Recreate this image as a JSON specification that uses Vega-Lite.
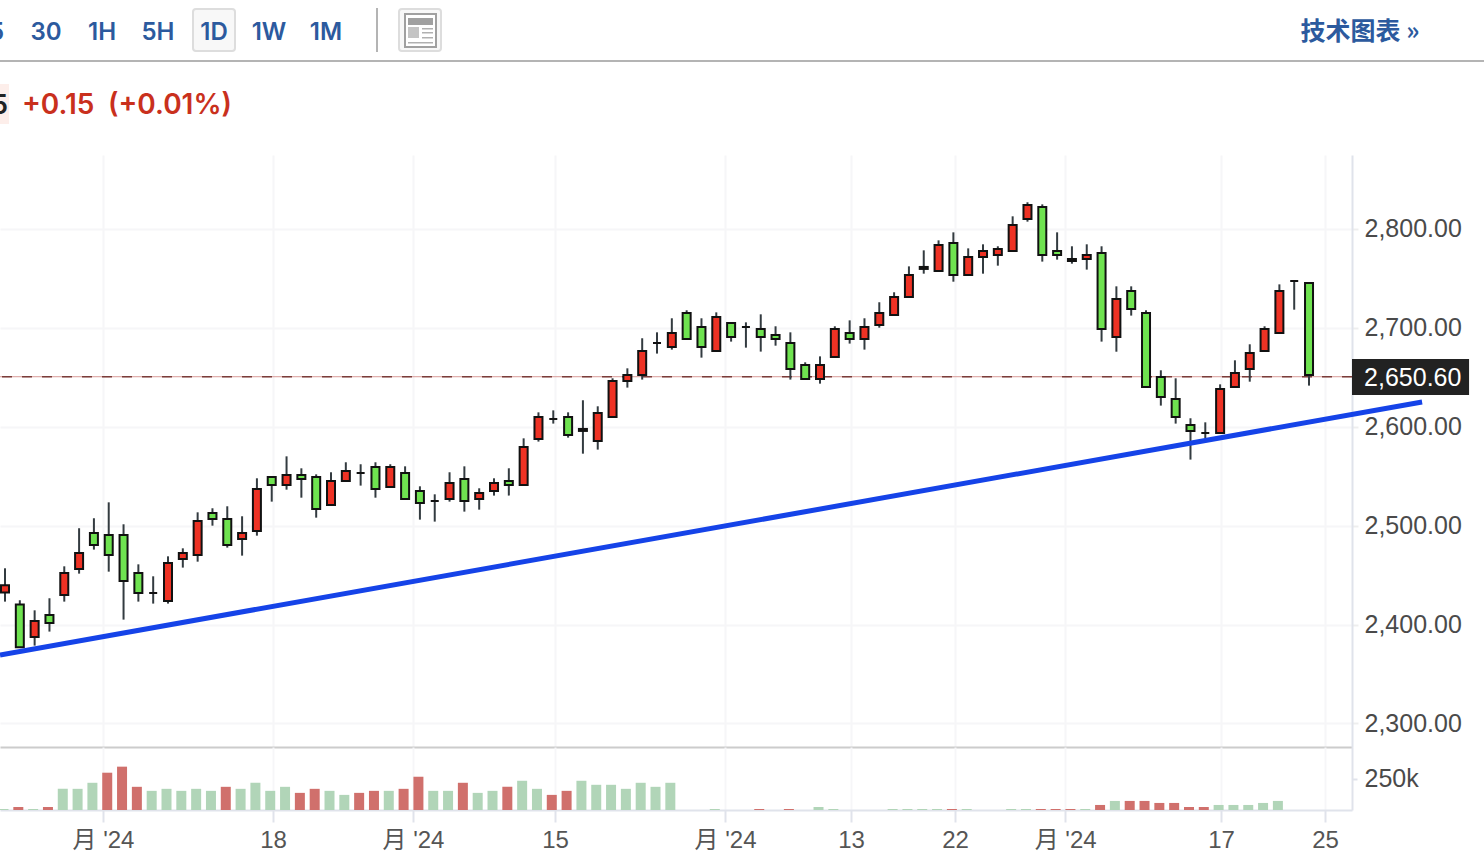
{"$schema":"https://vega.github.io/schema/vega-lite/v6.json","padding":{"left":-12,"top":0,"right":0,"bottom":0},"background":"white","spacing":0,"bounds":"flush","config":{"view":{"stroke":null}},
"datasets":{
"candles":[
{"i":0,"o":2432.3,"h":2456.9,"l":2423.2,"c":2439.7,"v":8000,"vdir":"down"},
{"i":1,"o":2420.2,"h":2424.6,"l":2377.0,"c":2377.0,"v":24000,"vdir":"up"},
{"i":2,"o":2387.5,"h":2414.4,"l":2378.7,"c":2403.6,"v":8000,"vdir":"down"},
{"i":3,"o":2409.7,"h":2426.6,"l":2392.9,"c":2401.6,"v":24000,"vdir":"up"},
{"i":4,"o":2429.9,"h":2458.9,"l":2423.2,"c":2452.2,"v":168000,"vdir":"down"},
{"i":5,"o":2456.2,"h":2497.4,"l":2451.5,"c":2472.4,"v":168000,"vdir":"down"},
{"i":6,"o":2492.6,"h":2507.5,"l":2475.8,"c":2480.5,"v":216000,"vdir":"down"},
{"i":7,"o":2490.6,"h":2523.6,"l":2453.5,"c":2470.4,"v":296000,"vdir":"up"},
{"i":8,"o":2490.6,"h":2501.4,"l":2405.0,"c":2444.1,"v":344000,"vdir":"up"},
{"i":9,"o":2452.2,"h":2460.9,"l":2423.2,"c":2431.9,"v":184000,"vdir":"up"},
{"i":10,"o":2431.9,"h":2448.8,"l":2421.2,"c":2431.9,"v":152000,"vdir":"down"},
{"i":11,"o":2423.9,"h":2469.0,"l":2421.2,"c":2462.3,"v":168000,"vdir":"down"},
{"i":12,"o":2466.3,"h":2477.1,"l":2457.6,"c":2472.4,"v":152000,"vdir":"down"},
{"i":13,"o":2470.4,"h":2513.5,"l":2463.6,"c":2504.8,"v":168000,"vdir":"down"},
{"i":14,"o":2512.8,"h":2517.6,"l":2500.0,"c":2506.8,"v":152000,"vdir":"down"},
{"i":15,"o":2506.8,"h":2519.6,"l":2477.8,"c":2480.5,"v":184000,"vdir":"up"},
{"i":16,"o":2486.6,"h":2509.5,"l":2469.7,"c":2492.6,"v":168000,"vdir":"down"},
{"i":17,"o":2494.7,"h":2547.9,"l":2489.9,"c":2537.1,"v":216000,"vdir":"down"},
{"i":18,"o":2549.3,"h":2549.3,"l":2524.3,"c":2541.2,"v":152000,"vdir":"down"},
{"i":19,"o":2541.2,"h":2570.1,"l":2536.4,"c":2551.3,"v":184000,"vdir":"down"},
{"i":20,"o":2551.3,"h":2558.0,"l":2528.3,"c":2547.2,"v":136000,"vdir":"up"},
{"i":21,"o":2549.3,"h":2551.9,"l":2508.1,"c":2516.9,"v":168000,"vdir":"up"},
{"i":22,"o":2520.9,"h":2554.0,"l":2520.9,"c":2545.2,"v":152000,"vdir":"down"},
{"i":23,"o":2545.2,"h":2564.1,"l":2545.2,"c":2555.3,"v":120000,"vdir":"down"},
{"i":24,"o":2553.3,"h":2562.1,"l":2540.5,"c":2553.3,"v":136000,"vdir":"up"},
{"i":25,"o":2559.4,"h":2564.1,"l":2528.3,"c":2537.1,"v":152000,"vdir":"up"},
{"i":26,"o":2539.1,"h":2562.1,"l":2539.1,"c":2559.4,"v":152000,"vdir":"down"},
{"i":27,"o":2553.3,"h":2560.0,"l":2527.0,"c":2527.0,"v":168000,"vdir":"up"},
{"i":28,"o":2535.1,"h":2539.8,"l":2506.1,"c":2523.0,"v":264000,"vdir":"up"},
{"i":29,"o":2525.0,"h":2531.7,"l":2504.1,"c":2525.0,"v":152000,"vdir":"down"},
{"i":30,"o":2527.0,"h":2554.0,"l":2524.3,"c":2543.2,"v":152000,"vdir":"down"},
{"i":31,"o":2547.2,"h":2560.0,"l":2514.2,"c":2525.0,"v":216000,"vdir":"up"},
{"i":32,"o":2527.0,"h":2537.8,"l":2516.2,"c":2533.1,"v":136000,"vdir":"down"},
{"i":33,"o":2535.1,"h":2547.9,"l":2530.4,"c":2543.2,"v":152000,"vdir":"down"},
{"i":34,"o":2545.2,"h":2558.0,"l":2530.4,"c":2541.2,"v":184000,"vdir":"up"},
{"i":35,"o":2541.2,"h":2588.3,"l":2541.2,"c":2579.6,"v":232000,"vdir":"down"},
{"i":36,"o":2587.7,"h":2614.6,"l":2585.0,"c":2609.9,"v":168000,"vdir":"down"},
{"i":37,"o":2607.9,"h":2616.6,"l":2603.2,"c":2607.9,"v":120000,"vdir":"up"},
{"i":38,"o":2609.9,"h":2614.6,"l":2589.0,"c":2591.7,"v":152000,"vdir":"up"},
{"i":39,"o":2595.8,"h":2626.8,"l":2572.8,"c":2597.8,"v":232000,"vdir":"down"},
{"i":40,"o":2585.6,"h":2620.7,"l":2576.9,"c":2613.9,"v":200000,"vdir":"down"},
{"i":41,"o":2609.9,"h":2649.0,"l":2609.9,"c":2646.3,"v":200000,"vdir":"down"},
{"i":42,"o":2646.3,"h":2659.1,"l":2639.6,"c":2652.4,"v":168000,"vdir":"down"},
{"i":43,"o":2652.4,"h":2689.5,"l":2647.7,"c":2676.6,"v":216000,"vdir":"down"},
{"i":44,"o":2684.7,"h":2695.5,"l":2674.0,"c":2684.7,"v":184000,"vdir":"down"},
{"i":45,"o":2680.7,"h":2709.7,"l":2678.0,"c":2694.8,"v":216000,"vdir":"down"},
{"i":46,"o":2715.1,"h":2717.8,"l":2688.8,"c":2688.8,"v":0,"vdir":"down"},
{"i":47,"o":2700.9,"h":2709.7,"l":2669.9,"c":2680.7,"v":0,"vdir":"down"},
{"i":48,"o":2676.6,"h":2715.7,"l":2676.6,"c":2711.0,"v":8000,"vdir":"down"},
{"i":49,"o":2704.9,"h":2704.9,"l":2686.1,"c":2690.8,"v":0,"vdir":"down"},
{"i":50,"o":2700.9,"h":2705.6,"l":2680.0,"c":2700.9,"v":0,"vdir":"down"},
{"i":51,"o":2698.9,"h":2713.7,"l":2676.0,"c":2690.8,"v":8000,"vdir":"up"},
{"i":52,"o":2692.8,"h":2701.6,"l":2682.0,"c":2688.8,"v":0,"vdir":"down"},
{"i":53,"o":2684.7,"h":2695.5,"l":2647.7,"c":2658.4,"v":8000,"vdir":"up"},
{"i":54,"o":2662.5,"h":2665.2,"l":2648.3,"c":2648.3,"v":0,"vdir":"down"},
{"i":55,"o":2648.3,"h":2671.2,"l":2643.6,"c":2662.5,"v":24000,"vdir":"down"},
{"i":56,"o":2670.6,"h":2701.6,"l":2670.6,"c":2698.9,"v":8000,"vdir":"down"},
{"i":57,"o":2694.8,"h":2707.6,"l":2684.1,"c":2688.8,"v":0,"vdir":"down"},
{"i":58,"o":2688.8,"h":2709.7,"l":2678.0,"c":2700.9,"v":0,"vdir":"down"},
{"i":59,"o":2702.9,"h":2725.9,"l":2700.2,"c":2715.1,"v":0,"vdir":"down"},
{"i":60,"o":2713.0,"h":2736.0,"l":2713.0,"c":2731.2,"v":8000,"vdir":"down"},
{"i":61,"o":2731.2,"h":2762.2,"l":2731.2,"c":2753.5,"v":8000,"vdir":"down"},
{"i":62,"o":2759.6,"h":2778.4,"l":2754.8,"c":2761.6,"v":8000,"vdir":"down"},
{"i":63,"o":2757.5,"h":2788.5,"l":2757.5,"c":2783.8,"v":8000,"vdir":"down"},
{"i":64,"o":2785.8,"h":2796.6,"l":2746.7,"c":2753.5,"v":8000,"vdir":"up"},
{"i":65,"o":2753.5,"h":2780.4,"l":2753.5,"c":2771.7,"v":8000,"vdir":"down"},
{"i":66,"o":2771.7,"h":2784.5,"l":2754.8,"c":2777.8,"v":0,"vdir":"down"},
{"i":67,"o":2773.7,"h":2782.5,"l":2762.9,"c":2779.8,"v":0,"vdir":"down"},
{"i":68,"o":2777.8,"h":2812.8,"l":2777.8,"c":2804.0,"v":8000,"vdir":"down"},
{"i":69,"o":2810.1,"h":2827.0,"l":2807.4,"c":2824.3,"v":8000,"vdir":"down"},
{"i":70,"o":2822.3,"h":2824.9,"l":2767.0,"c":2773.7,"v":8000,"vdir":"up"},
{"i":71,"o":2777.8,"h":2796.6,"l":2769.0,"c":2773.7,"v":8000,"vdir":"up"},
{"i":72,"o":2767.6,"h":2782.5,"l":2764.9,"c":2769.7,"v":8000,"vdir":"up"},
{"i":73,"o":2769.7,"h":2784.5,"l":2758.9,"c":2773.7,"v":8000,"vdir":"down"},
{"i":74,"o":2775.7,"h":2782.5,"l":2686.1,"c":2698.9,"v":40000,"vdir":"up"},
{"i":75,"o":2690.8,"h":2742.0,"l":2675.9,"c":2729.2,"v":72000,"vdir":"down"},
{"i":76,"o":2737.3,"h":2742.0,"l":2712.4,"c":2719.1,"v":72000,"vdir":"up"},
{"i":77,"o":2715.1,"h":2717.8,"l":2640.2,"c":2640.2,"v":72000,"vdir":"up"},
{"i":78,"o":2650.4,"h":2657.1,"l":2621.4,"c":2630.1,"v":56000,"vdir":"up"},
{"i":79,"o":2628.1,"h":2649.0,"l":2603.2,"c":2609.9,"v":56000,"vdir":"up"},
{"i":80,"o":2601.8,"h":2608.6,"l":2566.8,"c":2595.8,"v":24000,"vdir":"up"},
{"i":81,"o":2593.7,"h":2604.5,"l":2588.3,"c":2593.7,"v":24000,"vdir":"up"},
{"i":82,"o":2593.7,"h":2642.9,"l":2593.7,"c":2638.2,"v":40000,"vdir":"down"},
{"i":83,"o":2640.2,"h":2667.2,"l":2640.2,"c":2654.4,"v":40000,"vdir":"down"},
{"i":84,"o":2658.4,"h":2683.4,"l":2645.6,"c":2674.6,"v":40000,"vdir":"down"},
{"i":85,"o":2676.6,"h":2701.6,"l":2676.6,"c":2698.9,"v":56000,"vdir":"down"},
{"i":86,"o":2694.8,"h":2744.0,"l":2694.8,"c":2737.3,"v":72000,"vdir":"down"},
{"i":87,"o":2747.4,"h":2748.1,"l":2718.4,"c":2747.4,"v":0,"vdir":"down"},
{"i":88,"o":2745.4,"h":2745.4,"l":2641.6,"c":2652.4,"v":0,"vdir":"down"}
],
"trend":[{"i":-0.3374,"p":2369.3},{"i":95.63,"p":2625.1}],
"level":[{"price":2650.6,"i":95.0}],
"tag":[{"i":90.9,"i2":98.8,"hi":2668.6,"lo":2632.2}]
},
"vconcat":[
{"width":1484,"height":155,
"encoding":{
"x":{"field":"col","type":"quantitative","scale":{"domain":[0,1484],"nice":false,"zero":false,"padding":0},"axis":null},
"y":{"field":"row","type":"quantitative","scale":{"domain":[155,0],"nice":false,"zero":false},"axis":null}},
"layer":[
{"data":{"values":[{"col":0,"col2":9,"row":84,"row2":124}]},"mark":{"type":"rect","fill":"#fdeeea"},"encoding":{"x2":{"field":"col2"},"y2":{"field":"row2"}}},
{"data":{"values":[{"col":193,"col2":235,"row":9,"row2":51},{"col":399,"col2":441,"row":9,"row2":51}]},"mark":{"type":"rect","fill":"#f8f8f8","stroke":"#dddddd","strokeWidth":2,"cornerRadius":3},"encoding":{"x2":{"field":"col2"},"y2":{"field":"row2"}}},
{"data":{"values":[{"col":405,"col2":436,"row":14,"row2":47}]},"mark":{"type":"rect","fill":"#ffffff","stroke":"#a0a0a0","strokeWidth":2},"encoding":{"x2":{"field":"col2"},"y2":{"field":"row2"}}},
{"data":{"values":[{"col":408,"col2":433,"row":18,"row2":25}]},"mark":{"type":"rect","fill":"#a0a0a0"},"encoding":{"x2":{"field":"col2"},"y2":{"field":"row2"}}},
{"data":{"values":[{"col":408,"col2":419,"row":27,"row2":38}]},"mark":{"type":"rect","fill":"#c4c4c4"},"encoding":{"x2":{"field":"col2"},"y2":{"field":"row2"}}},
{"data":{"values":[{"col":422,"col2":433,"row":28,"row2":29.5},{"col":422,"col2":433,"row":32,"row2":33.5},{"col":422,"col2":433,"row":37,"row2":38.5},{"col":408,"col2":433,"row":42,"row2":43.5}]},"mark":{"type":"rect","fill":"#b0b0b0"},"encoding":{"x2":{"field":"col2"},"y2":{"field":"row2"}}},
{"data":{"values":[{"col":376,"col2":378,"row":8,"row2":52},{"col":0,"col2":1484,"row":60,"row2":62}]},"mark":{"type":"rect","fill":"#b4b4b4"},"encoding":{"x2":{"field":"col2"},"y2":{"field":"row2"}}},
{"data":{"values":[{"t":"5","col":4,"row":32.5}]},"mark":{"type":"text","font":"Inter","fontWeight":600,"fontSize":24,"color":"#2c5a9e","align":"right","baseline":"middle"},"encoding":{"text":{"field":"t"}}},
{"data":{"values":[{"t":"30","col":46,"row":32.5},{"t":"1H","col":102,"row":32.5},{"t":"5H","col":158,"row":32.5},{"t":"1D","col":214,"row":32.5},{"t":"1W","col":269,"row":32.5},{"t":"1M","col":326,"row":32.5}]},"mark":{"type":"text","font":"Inter","fontWeight":600,"fontSize":24,"color":"#2c5a9e","align":"center","baseline":"middle"},"encoding":{"text":{"field":"t"}}},
{"data":{"values":[{"t":"技术图表 »","col":1360,"row":31.5}]},"mark":{"type":"text","font":"Noto Sans CJK SC","fontWeight":700,"fontSize":25,"color":"#2c5a9e","align":"center","baseline":"middle"},"encoding":{"text":{"field":"t"}}},
{"data":{"values":[{"t":"+0.15","col":22,"row":106},{"t":"(+0.01%)","col":108,"row":106}]},"mark":{"type":"text","font":"Inter","fontWeight":600,"fontSize":28,"color":"#c9301d","align":"left","baseline":"middle"},"encoding":{"text":{"field":"t"}}},
{"data":{"values":[{"t":"5","col":8,"row":106}]},"mark":{"type":"text","font":"Inter","fontWeight":600,"fontSize":27,"color":"#222222","align":"right","baseline":"middle"},"encoding":{"text":{"field":"t"}}}
]},
{"width":1352,"height":592,
"encoding":{"x":{"field":"i","type":"quantitative","scale":{"domain":[-0.3374,90.9],"nice":false,"zero":false,"padding":0},
"axis":{"orient":"bottom","title":null,"labels":false,"ticks":false,"grid":true,"gridColor":"#f6f6f8","gridWidth":2,"domain":true,"domainColor":"#cccccc","domainWidth":2,"values":[6.61,18.09,27.53,37.12,48.59,57.09,64.11,71.54,82.06,89.08]}}},
"layer":[
{"data":{"name":"level"},"mark":{"type":"rule","stroke":"#d89a96","strokeWidth":1},"encoding":{"x":null,"y":{"field":"price","type":"quantitative","scale":{"domain":[2276.2,2874.8],"nice":false,"zero":false},
"axis":{"orient":"right","title":null,"values":[2300,2400,2500,2600,2700,2800],"format":",.2f","grid":true,"gridColor":"#f6f6f8","gridWidth":2,"domainColor":"#e0e3eb","domainWidth":2,"ticks":true,"tickColor":"#eeeeee","tickWidth":2,"tickSize":6,"labelPadding":6,"labelFont":"Liberation Sans","labelFontSize":25,"labelColor":"#4a4a4a"}}}},
{"data":{"name":"level"},"mark":{"type":"rule","stroke":"#7a3d3a","strokeWidth":1.5,"strokeDash":[10,10]},"encoding":{"x":null,"y":{"field":"price","type":"quantitative"}}},
{"data":{"name":"candles"},"mark":{"type":"rule","stroke":"#333b40","strokeWidth":2},"encoding":{"y":{"field":"h","type":"quantitative"},"y2":{"field":"l"}}},
{"data":{"name":"candles"},"mark":{"type":"bar","size":8,"stroke":"#111111","strokeWidth":2},"encoding":{"y":{"field":"o","type":"quantitative"},"y2":{"field":"c"},"fill":{"condition":{"test":"datum.c>datum.o","value":"#ee3224"},"value":"#6fe350"}}},
{"data":{"name":"trend"},"mark":{"type":"line","stroke":"#1543e8","strokeWidth":5},"encoding":{"y":{"field":"p","type":"quantitative"}}},
{"data":{"name":"tag"},"mark":{"type":"rect","fill":"#222222"},"encoding":{"x2":{"field":"i2"},"y":{"field":"hi","type":"quantitative"},"y2":{"field":"lo"}}},
{"data":{"name":"level"},"mark":{"type":"text","font":"Liberation Sans","fontSize":25,"color":"#ffffff","align":"center","baseline":"middle","dy":1},"encoding":{"y":{"field":"price","type":"quantitative"},"text":{"field":"price","format":",.2f"}}}
]},
{"width":1352,"height":63,"data":{"name":"candles"},
"mark":{"type":"bar","size":10,"xOffset":-1.5},
"encoding":{
"x":{"field":"i","type":"quantitative","scale":{"domain":[-0.3374,90.9],"nice":false,"zero":false,"padding":0},
"axis":{"title":null,"values":[6.61,18.09,27.53,37.12,48.59,57.09,64.11,71.54,82.06,89.08],"labelExpr":"datum.value==18.09?'18':datum.value==37.12?'15':datum.value==57.09?'13':datum.value==64.11?'22':datum.value==82.06?'17':datum.value==89.08?'25':\"月 '24\"","labelOverlap":false,"labelFlush":false,"grid":true,"gridColor":"#f6f6f8","gridWidth":2,"domainColor":"#e0e3eb","domainWidth":2,"tickColor":"#e0e3eb","tickWidth":2,"tickSize":12,"labelPadding":6,"labelFont":"Liberation Sans, Noto Sans CJK SC","labelFontSize":24,"labelColor":"#555555"}},
"y":{"field":"v","type":"quantitative","stack":null,"scale":{"domain":[0,500000],"nice":false,"zero":false},
"axis":{"orient":"right","title":null,"values":[250000],"labelExpr":"'250k'","grid":false,"domainColor":"#e0e3eb","domainWidth":2,"tickColor":"#e0e3eb","tickWidth":2,"tickSize":5,"labelPadding":7,"labelFont":"Liberation Sans","labelFontSize":25,"labelColor":"#4a4a4a"}},
"y2":{"datum":0},
"color":{"field":"vdir","type":"nominal","legend":null,"scale":{"domain":["up","down"],"range":["#d0706c","#b1d5b8"]}}}
}
]}
